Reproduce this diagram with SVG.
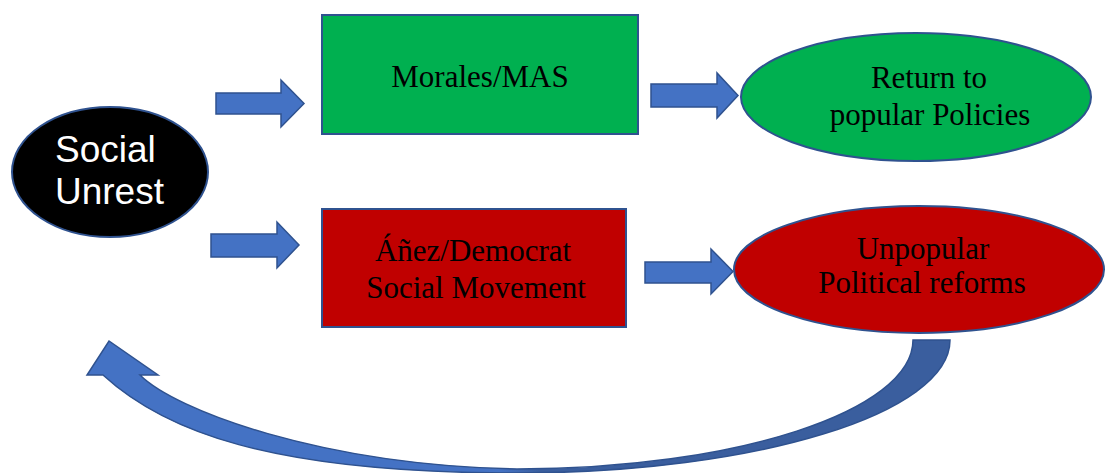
<svg xmlns="http://www.w3.org/2000/svg" width="1105" height="473" viewBox="0 0 1105 473">
<style>
.node{stroke:#2F528F;stroke-width:2}
.arrow{fill:#4472C4;stroke:#2F528F;stroke-width:1.5;stroke-linejoin:miter}
.serif{font-family:"Liberation Serif","Times New Roman",serif;font-size:31px;fill:#000;text-anchor:middle}
.sans{font-family:"Liberation Sans",Arial,sans-serif;font-size:37px;fill:#fff}
</style>
<defs>
<linearGradient id="curveFill" gradientUnits="userSpaceOnUse" x1="500" y1="0" x2="540" y2="0">
<stop offset="0" stop-color="#4472C4"/>
<stop offset="1" stop-color="#3A5E9E"/>
</linearGradient>
</defs>
<rect width="1105" height="473" fill="#fff"/>
<g id="connectors">
<polygon class="arrow" points="216,93 281,93 281,80 304,103.5 281,127 281,114 216,114"/>
<polygon class="arrow" points="211,234 277,234 277,222 299,245 277,268 277,257 211,257"/>
<polygon class="arrow" points="651,84 717,84 717,73 738,95.5 717,118 717,107 651,107"/>
<polygon class="arrow" points="645,262 711,262 711,249 733,271.5 711,294 711,283 645,283"/>
<path class="arrow" style="fill:url(#curveFill)" d="M950,340 C950,413.5 756,473 517,473 C267,473 163,430 103,375 L87,375 L109,341 L158,375 L140,375 C175,410 320,465 517,469 C735,469 913,411 913,340 Z"/>
</g>
<g id="social-unrest">
<ellipse class="node" cx="110" cy="172" rx="98" ry="65" fill="#000"/>
<text class="sans" x="55" y="162">Social</text>
<text class="sans" x="55" y="204">Unrest</text>
</g>
<g id="morales-mas">
<rect class="node" x="322" y="15" width="316" height="119" fill="#00B050"/>
<text class="serif" x="480" y="87">Morales/MAS</text>
</g>
<g id="return-popular">
<ellipse class="node" cx="916" cy="97" rx="175" ry="64" fill="#00B050"/>
<text class="serif" x="929" y="88">Return to</text>
<text class="serif" x="930" y="125">popular Policies</text>
</g>
<g id="anez-democrat">
<rect class="node" x="322" y="209" width="304" height="118" fill="#C00000"/>
<text class="serif" x="473" y="261">Áñez/Democrat</text>
<text class="serif" x="476" y="298">Social Movement</text>
</g>
<g id="unpopular-reforms">
<ellipse class="node" cx="919" cy="269.5" rx="185" ry="63.5" fill="#C00000"/>
<text class="serif" x="923" y="259">Unpopular</text>
<text class="serif" x="922" y="293">Political reforms</text>
</g>
</svg>
